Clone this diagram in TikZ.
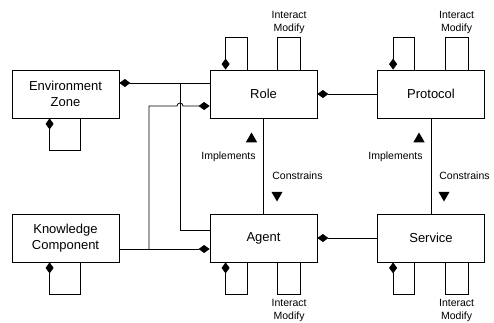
\documentclass[tikz,border=0pt]{standalone}
\usepackage{fontspec}
\setmainfont{Liberation Sans}
\usepackage{tikz}
\usetikzlibrary{shapes.geometric,arrows.meta,calc}

\tikzset{
  box/.style={draw,line width=0.8pt,minimum width=107pt,minimum height=48pt,
    align=center,font=\fontsize{13}{16}\selectfont},
  lbl/.style={align=center,inner sep=1pt,font=\fontsize{10.5}{13}\selectfont},
  diam/.style={{Diamond[length=11pt,width=8pt]}-},
  uptri/.style={regular polygon,regular polygon sides=3,fill,inner sep=0pt,minimum size=13pt},
  dntri/.style={uptri,shape border rotate=180}
}

\begin{document}
\begin{tikzpicture}[x=1pt,y=1pt,line width=0.8pt]
\useasboundingbox (0,0) rectangle (494,322);

% classes
\node[box] (env) at (65.5,228) {Environment\\Zone};
\node[box] (know) at (65.5,84) {Knowledge\\Component};
\node[box] (role) at (263.5,228) {Role};
\node[box] (agent) at (263.5,84) {Agent};
\node[box] (prot) at (431,228) {Protocol};
\node[box] (serv) at (431,84) {Service};

% self loops
\draw[diam] ([xshift=38pt]env.south west) -- ++(0,-32) -| ([xshift=69pt]env.south west);
\draw[diam] ([xshift=38pt]know.south west) -- ++(0,-32) -| ([xshift=69pt]know.south west);

\draw[diam] ([xshift=16pt]role.north west) -- ++(0,32) -| ([xshift=38pt]role.north west);
\draw ([xshift=68pt]role.north west) -- ++(0,32)
  -- node[lbl,above=3pt]{Interact\\Modify} ++(23,0) -- ([xshift=91pt]role.north west);
\draw[diam] ([xshift=16pt]prot.north west) -- ++(0,32) -| ([xshift=37pt]prot.north west);
\draw ([xshift=68pt]prot.north west) -- ++(0,32)
  -- node[lbl,above=3pt]{Interact\\Modify} ++(23,0) -- ([xshift=91pt]prot.north west);

\draw[diam] ([xshift=16pt]agent.south west) -- ++(0,-32) -| ([xshift=38pt]agent.south west);
\draw ([xshift=68pt]agent.south west) -- ++(0,-32)
  -- node[lbl,below=3pt]{Interact\\Modify} ++(23,0) -- ([xshift=91pt]agent.south west);
\draw[diam] ([xshift=16pt]serv.south west) -- ++(0,-32) -| ([xshift=37pt]serv.south west);
\draw ([xshift=68pt]serv.south west) -- ++(0,-32)
  -- node[lbl,below=3pt]{Interact\\Modify} ++(23,0) -- ([xshift=91pt]serv.south west);

% associations
\coordinate (j1) at (180,239);
\coordinate (j2) at (149,73);
\draw[diam] ([yshift=11pt]env.east) -- ([yshift=11pt]role.west);
\draw (j1) |- ([yshift=8pt]agent.west);
\draw[diam] ([yshift=-11pt]agent.west) -- ([yshift=-11pt]know.east);
\draw[diam] ([yshift=-12pt]role.west) -- (183,216) arc (0:180:3pt) -| (j2);
\draw[diam] (role.east) -- (prot.west);
\draw[diam] (agent.east) -- (serv.west);

% implements / constrains
\draw (role.south) -- (agent.north);
\draw (prot.south) -- (serv.north);
\node[uptri] (up1) at (251.5,183) {};
\node[lbl,anchor=east] (imp1) at (257,165) {Implements};
\node[lbl,anchor=west] (con1) at (271,146) {Constrains};
\node[dntri] (dn1) at (277,127) {};
\node[uptri] (up2) at (419,183) {};
\node[lbl,anchor=east] (imp2) at (424,165) {Implements};
\node[lbl,anchor=west] (con2) at (438,146) {Constrains};
\node[dntri] (dn2) at (444,127) {};
\end{tikzpicture}
\end{document}
